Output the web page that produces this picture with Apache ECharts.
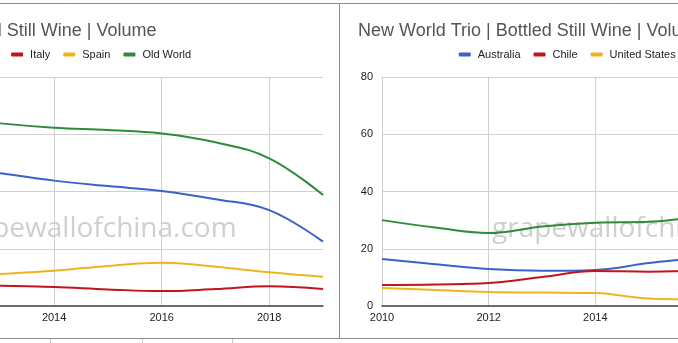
<!DOCTYPE html>
<html>
<head>
<meta charset="utf-8">
<script src="https://cdn.jsdelivr.net/npm/echarts@6/dist/echarts.min.js"></script>
<style>
  html, body { margin: 0; padding: 0; background: #fff; }
  #wrap { position: relative; width: 678px; height: 343px; overflow: hidden; background: #fff; }
  .panel { position: absolute; top: 0; width: 542px; height: 343px; }
  #oldWorld { left: -203px; }
  #newWorld { left: 339px; }
</style>
</head>
<body>
<div id="wrap">
  <div id="oldWorld" class="panel"></div>
  <div id="newWorld" class="panel"></div>
</div>
<script>
// Bottled still wine import volume, 2010-2019
const years = ['2010', '2011', '2012', '2013', '2014', '2015', '2016', '2017', '2018', '2019'];
const yMin = 0, yMax = 80, yStep = 20;

// Old World trio
const france   = [35.0, 44.0, 48.5, 46.4, 43.8, 41.9, 40.2, 37.3, 33.5, 22.5];
const italy    = [5.0, 6.5, 7.3, 7.1, 6.6, 5.8, 5.2, 5.9, 6.9, 5.9];
const spain    = [6.0, 8.5, 10.3, 11.2, 12.3, 14.0, 15.1, 13.7, 11.8, 10.2];
const oldWorld = [46.0, 59.0, 66.0, 63.8, 62.3, 61.5, 60.3, 57.2, 51.6, 38.8];

// New World trio
const australia    = [16.4, 14.6, 12.9, 12.3, 12.6, 15.0, 17.0, 20.0, 21.0, 17.0];
const chile        = [7.3, 7.5, 8.0, 10.1, 12.2, 12.0, 12.5, 14.0, 13.0, 11.0];
const unitedStates = [6.3, 5.6, 4.9, 4.7, 4.5, 2.6, 2.3, 2.5, 2.2, 2.0];
const newWorld     = [30.0, 27.4, 25.5, 27.8, 29.1, 29.4, 31.8, 36.5, 36.0, 30.0];

const oldTitle = 'Old World Trio | Bottled Still Wine | Volume';
const newTitle = 'New World Trio | Bottled Still Wine | Volume';
const watermark = 'grapewallofchina.com';

const COLORS = { blue: '#3a62c8', red: '#c2151d', yellow: '#efb41c', green: '#2e8b3c' };
const FONT = '"Liberation Sans", Arial, sans-serif';

function buildOption(title, names, values, colors, gridLeft, gridWidth, extraGraphics) {
  const series = names.map((n, i) => ({
    name: n,
    type: 'line',
    data: values[i],
    smooth: 0.4,
    showSymbol: false,
    lineStyle: { width: 2, color: colors[i] },
    itemStyle: { color: colors[i] },
    z: 3
  }));
  return {
    animation: false,
    backgroundColor: '#fff',
    title: {
      text: title,
      left: 19,
      top: 22,
      padding: 0,
      textStyle: { fontFamily: FONT, fontSize: 18, fontWeight: 'normal', color: '#555' }
    },
    legend: {
      data: names,
      left: 'center',
      top: 44,
      icon: 'roundRect',
      itemWidth: 12,
      itemHeight: 4,
      itemGap: 13,
      textStyle: { fontFamily: FONT, fontSize: 11, color: '#222', padding: [0, 0, 0, 2] }
    },
    grid: { left: gridLeft, top: 77, width: gridWidth, height: 229 },
    xAxis: {
      type: 'category',
      data: years,
      boundaryGap: false,
      axisLine: { show: true, lineStyle: { color: '#444', width: 1.5 } },
      axisTick: { show: false },
      axisLabel: {
        interval: 1, margin: 6,
        fontFamily: FONT, fontSize: 11, color: '#222'
      },
      splitLine: { show: true, interval: 1, lineStyle: { color: '#d0d0d0', width: 1 } }
    },
    yAxis: {
      type: 'value',
      min: yMin, max: yMax, interval: yStep,
      axisLine: { show: false },
      axisTick: { show: false },
      axisLabel: { margin: 9, fontFamily: FONT, fontSize: 11, color: '#222' },
      splitLine: { show: true, lineStyle: { color: '#d0d0d0', width: 1 } }
    },
    graphic: [
      {
        type: 'rect', silent: true, z: 10,
        shape: { x: 0.5, y: 3.5, width: extraGraphics.borderWidth, height: 335 },
        style: { fill: 'none', stroke: '#8a8a8a', lineWidth: 1 }
      },
      {
        type: 'text', silent: true, z: 1,
        left: 153, top: 215,
        style: {
          text: watermark, fill: '#cfcfcf',
          font: '28px "Open Sans", Lato, sans-serif'
        }
      }
    ].concat(extraGraphics.items),
    series: series
  };
}

// Thin divider stubs below the left panel
const stubs = [253, 345, 435].map(x => ({
  type: 'line', silent: true, z: 10,
  shape: { x1: x + 0.5, y1: 339, x2: x + 0.5, y2: 343 },
  style: { stroke: '#c8c8c8', lineWidth: 1 }
}));

const left = echarts.init(document.getElementById('oldWorld'), null, { renderer: 'canvas' });
left.setOption(buildOption(
  oldTitle,
  ['France', 'Italy', 'Spain', 'Old World'],
  [france, italy, spain, oldWorld],
  [COLORS.blue, COLORS.red, COLORS.yellow, COLORS.green],
  42, 484,
  { borderWidth: 546, items: stubs }
));

const right = echarts.init(document.getElementById('newWorld'), null, { renderer: 'canvas' });
right.setOption(buildOption(
  newTitle,
  ['Australia', 'Chile', 'United States', 'New World'],
  [australia, chile, unitedStates, newWorld],
  [COLORS.blue, COLORS.red, COLORS.yellow, COLORS.green],
  43, 480,
  { borderWidth: 540, items: [] }
));
</script>
</body>
</html>
